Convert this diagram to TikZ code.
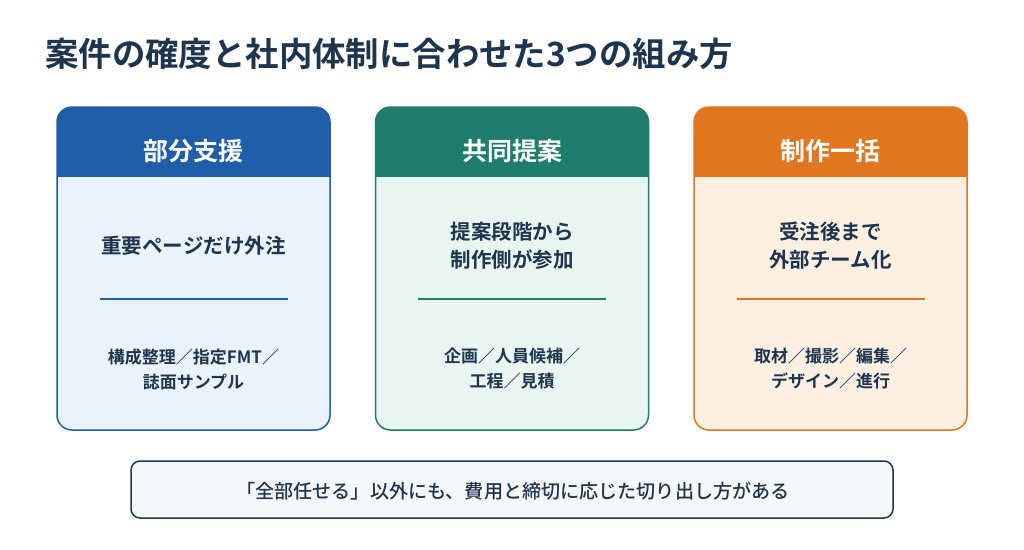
\documentclass[tikz,border=0pt]{standalone}
\usepackage{fontspec}
\setmainfont{Noto Sans CJK JP}[BoldFont={Noto Sans CJK JP Bold}]
\newfontfamily\medfont{Noto Sans CJK JP Medium}
\definecolor{navy}{HTML}{1E3550}
\definecolor{accA}{HTML}{215EA8}
\definecolor{accB}{HTML}{1F7D6C}
\definecolor{accC}{HTML}{E07620}
\definecolor{bgA}{HTML}{EAF2FB}
\definecolor{bgB}{HTML}{E8F5F1}
\definecolor{bgC}{HTML}{FDF0E3}
\definecolor{noteBg}{HTML}{F5F8FB}
\tikzset{
  title/.style={anchor=west, text=navy, font=\bfseries\fontsize{33.4}{38}\selectfont, inner sep=0pt},
  headtext/.style={text=white, font=\bfseries\fontsize{25}{30}\selectfont, inner sep=0pt},
  maintext/.style={text=navy, align=center, font=\bfseries\fontsize{20.5}{28}\selectfont, inner sep=0pt},
  subtext/.style={text=navy, align=center, font=\bfseries\fontsize{17}{25}\selectfont, inner sep=0pt},
  notetext/.style={text=navy, font=\medfont\fontsize{19.1}{23}\selectfont, inner sep=0pt},
}
\begin{document}
\begin{tikzpicture}[x=1pt,y=-1pt]
\useasboundingbox (0,0) rectangle (1024,549);
\fill[white] (0,0) rectangle (1024,549);
\node[title] (ttl) at (45,54) {案件の確度と社内体制に合わせた3つの組み方};
% cards
\foreach \cx/\acc/\bg/\nm in {193.5/accA/bgA/a, 512/accB/bgB/b, 830.5/accC/bgC/c}{
  \fill[\bg, rounded corners=15] (\cx-136.5,107) rectangle (\cx+136.5,430);
  \begin{scope}
    \clip (\cx-137,106) rectangle (\cx+137,176);
    \fill[\acc, rounded corners=15] (\cx-136.5,107) rectangle (\cx+136.5,430);
  \end{scope}
  \draw[\acc, line width=1.5pt, rounded corners=15] (\cx-136.5,107) rectangle (\cx+136.5,430);
  \coordinate (l\nm) at (\cx-94,299);
  \coordinate (r\nm) at (\cx+94,299);
  \draw[\acc, line width=1.5pt] (l\nm) -- (r\nm);
}
\node[headtext] (ha) at (193.5,151) {部分支援};
\node[headtext] (hb) at (512,151) {共同提案};
\node[headtext] (hc) at (830.5,151) {制作一括};
\node[maintext] (ma) at (193.5,246) {重要ページだけ外注};
\node[maintext] (mb) at (512,246) {提案段階から\\制作側が参加};
\node[maintext] (mc) at (830.5,246) {受注後まで\\外部チーム化};
\node[subtext] (sa) at (193.5,369) {構成整理／指定FMT／\\誌面サンプル};
\node[subtext] (sb) at (512,369) {企画／人員候補／\\工程／見積};
\node[subtext] (sc) at (830.5,369) {取材／撮影／編集／\\デザイン／進行};
% note
\node[draw=navy, fill=noteBg, line width=1.5pt, rounded corners=9, minimum width=762, minimum height=57, inner sep=0pt] (note) at (512,489.5) {};
\node[notetext] (nt) at (513,491) {「全部任せる」以外にも、費用と締切に応じた切り出し方がある};
\end{tikzpicture}
\end{document}
